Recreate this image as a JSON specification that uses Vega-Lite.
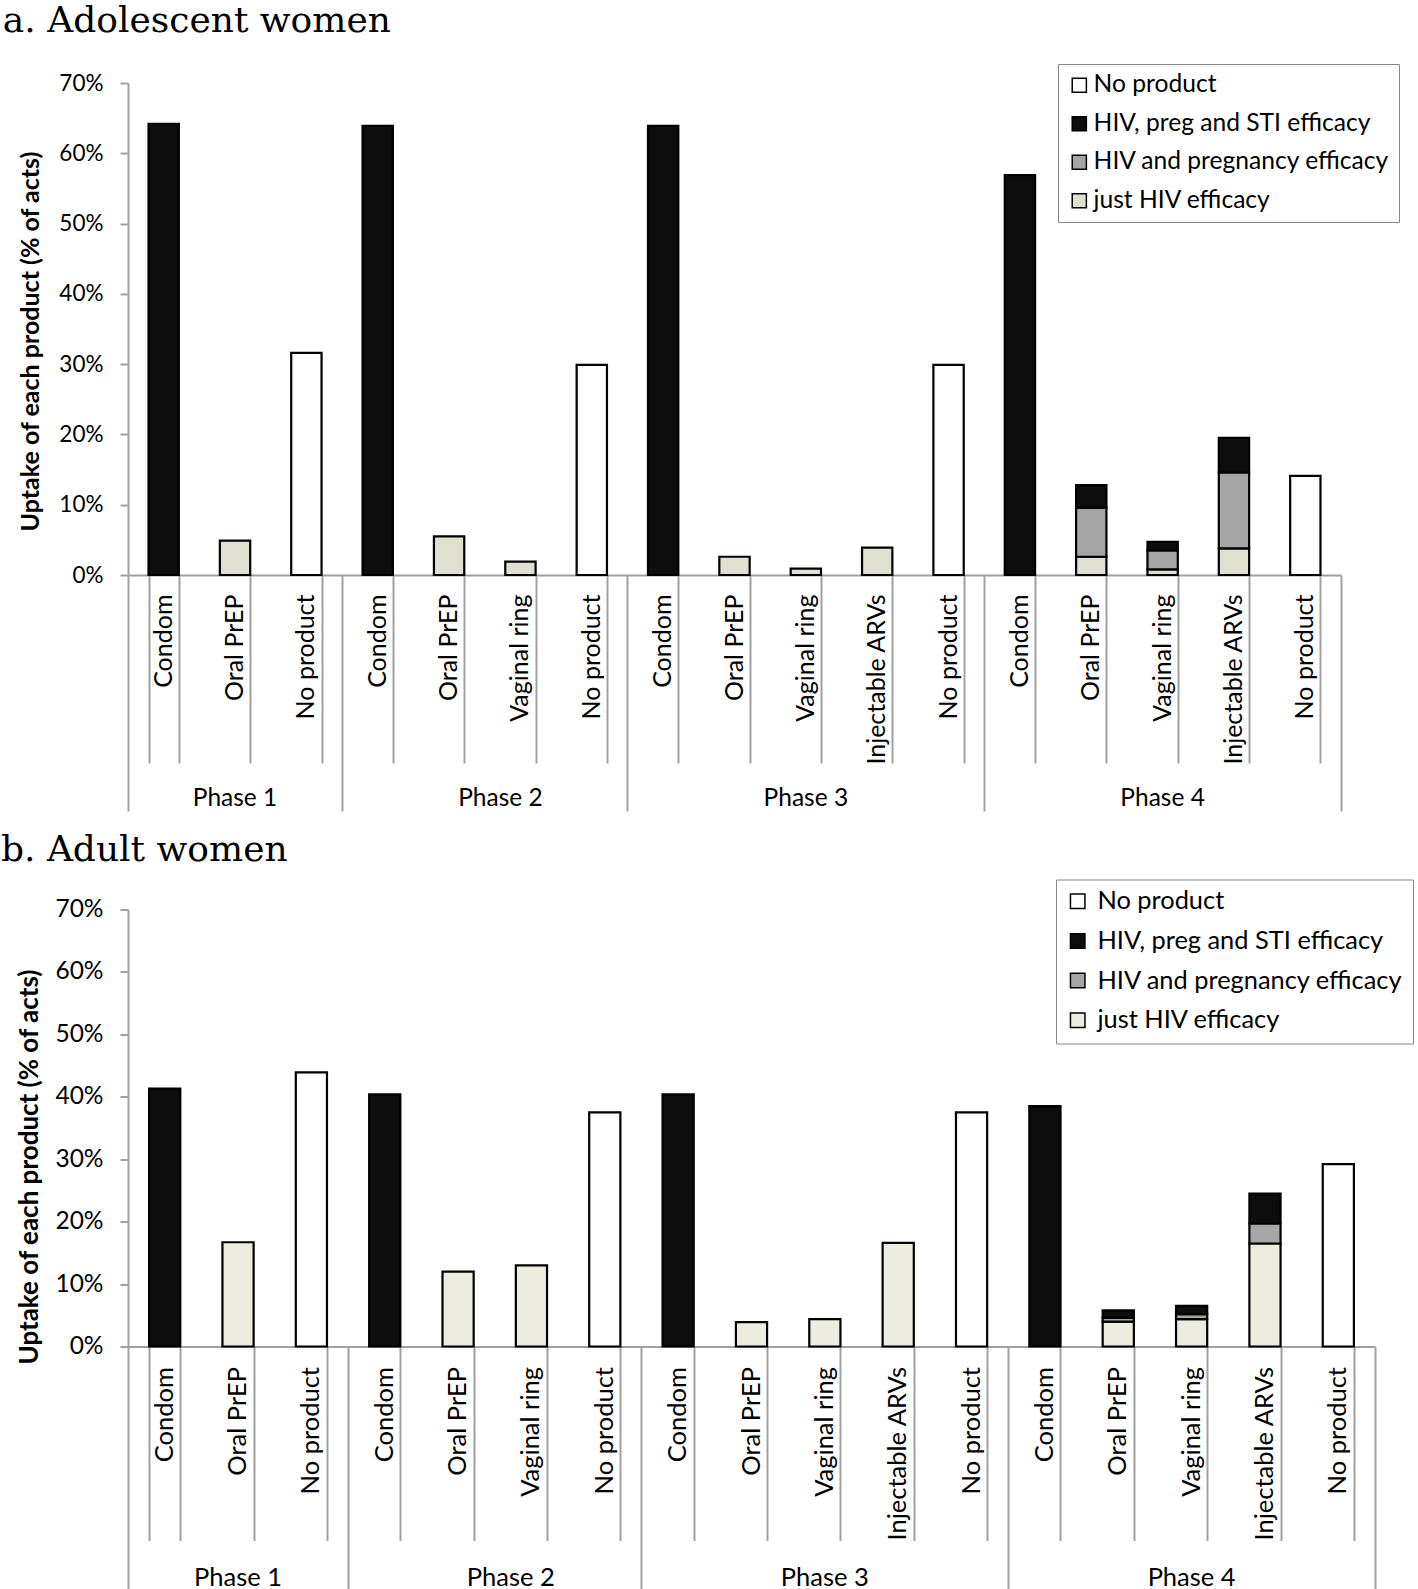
{
  "$schema": "https://vega.github.io/schema/vega-lite/v6.json",
  "padding": {"top": 3, "left": 0, "right": 0, "bottom": 0},
  "background": "white",
  "spacing": 19.5,
  "config": {
    "view": {"stroke": null},
    "font": "Lato",
    "axis": {"labelFont": "Lato", "titleFont": "Lato", "labelColor": "black", "titleColor": "black"},
    "legend": {"labelFont": "Lato", "labelColor": "black", "labelLimit": 0}
  },
  "resolve": {"scale": {"color": "independent"}},
  "datasets": {
    "adol": [
      {"key": "1|Condom", "type": "HIV, preg and STI efficacy", "efficacies": 3, "value": 64.2},
      {"key": "1|Oral PrEP", "type": "just HIV efficacy", "efficacies": 1, "value": 4.9},
      {"key": "1|No product", "type": "No product", "efficacies": 0, "value": 31.6},
      {"key": "2|Condom", "type": "HIV, preg and STI efficacy", "efficacies": 3, "value": 63.9},
      {"key": "2|Oral PrEP", "type": "just HIV efficacy", "efficacies": 1, "value": 5.5},
      {"key": "2|Vaginal ring", "type": "just HIV efficacy", "efficacies": 1, "value": 1.9},
      {"key": "2|No product", "type": "No product", "efficacies": 0, "value": 29.9},
      {"key": "3|Condom", "type": "HIV, preg and STI efficacy", "efficacies": 3, "value": 63.9},
      {"key": "3|Oral PrEP", "type": "just HIV efficacy", "efficacies": 1, "value": 2.6},
      {"key": "3|Vaginal ring", "type": "just HIV efficacy", "efficacies": 1, "value": 0.9},
      {"key": "3|Injectable ARVs", "type": "just HIV efficacy", "efficacies": 1, "value": 3.9},
      {"key": "3|No product", "type": "No product", "efficacies": 0, "value": 29.9},
      {"key": "4|Condom", "type": "HIV, preg and STI efficacy", "efficacies": 3, "value": 56.9},
      {"key": "4|Oral PrEP", "type": "just HIV efficacy", "efficacies": 1, "value": 2.6},
      {"key": "4|Oral PrEP", "type": "HIV and pregnancy efficacy", "efficacies": 2, "value": 7.0},
      {"key": "4|Oral PrEP", "type": "HIV, preg and STI efficacy", "efficacies": 3, "value": 3.2},
      {"key": "4|Vaginal ring", "type": "just HIV efficacy", "efficacies": 1, "value": 0.8},
      {"key": "4|Vaginal ring", "type": "HIV and pregnancy efficacy", "efficacies": 2, "value": 2.7},
      {"key": "4|Vaginal ring", "type": "HIV, preg and STI efficacy", "efficacies": 3, "value": 1.2},
      {"key": "4|Injectable ARVs", "type": "just HIV efficacy", "efficacies": 1, "value": 3.8},
      {"key": "4|Injectable ARVs", "type": "HIV and pregnancy efficacy", "efficacies": 2, "value": 10.8},
      {"key": "4|Injectable ARVs", "type": "HIV, preg and STI efficacy", "efficacies": 3, "value": 4.9},
      {"key": "4|No product", "type": "No product", "efficacies": 0, "value": 14.1}
    ],
    "adult": [
      {"key": "1|Condom", "type": "HIV, preg and STI efficacy", "efficacies": 3, "value": 41.3},
      {"key": "1|Oral PrEP", "type": "just HIV efficacy", "efficacies": 1, "value": 16.7},
      {"key": "1|No product", "type": "No product", "efficacies": 0, "value": 43.9},
      {"key": "2|Condom", "type": "HIV, preg and STI efficacy", "efficacies": 3, "value": 40.4},
      {"key": "2|Oral PrEP", "type": "just HIV efficacy", "efficacies": 1, "value": 12.0},
      {"key": "2|Vaginal ring", "type": "just HIV efficacy", "efficacies": 1, "value": 13.0},
      {"key": "2|No product", "type": "No product", "efficacies": 0, "value": 37.5},
      {"key": "3|Condom", "type": "HIV, preg and STI efficacy", "efficacies": 3, "value": 40.4},
      {"key": "3|Oral PrEP", "type": "just HIV efficacy", "efficacies": 1, "value": 3.9},
      {"key": "3|Vaginal ring", "type": "just HIV efficacy", "efficacies": 1, "value": 4.4},
      {"key": "3|Injectable ARVs", "type": "just HIV efficacy", "efficacies": 1, "value": 16.6},
      {"key": "3|No product", "type": "No product", "efficacies": 0, "value": 37.5},
      {"key": "4|Condom", "type": "HIV, preg and STI efficacy", "efficacies": 3, "value": 38.5},
      {"key": "4|Oral PrEP", "type": "just HIV efficacy", "efficacies": 1, "value": 4.0},
      {"key": "4|Oral PrEP", "type": "HIV and pregnancy efficacy", "efficacies": 2, "value": 0.6},
      {"key": "4|Oral PrEP", "type": "HIV, preg and STI efficacy", "efficacies": 3, "value": 1.2},
      {"key": "4|Vaginal ring", "type": "just HIV efficacy", "efficacies": 1, "value": 4.4},
      {"key": "4|Vaginal ring", "type": "HIV and pregnancy efficacy", "efficacies": 2, "value": 0.8},
      {"key": "4|Vaginal ring", "type": "HIV, preg and STI efficacy", "efficacies": 3, "value": 1.3},
      {"key": "4|Injectable ARVs", "type": "just HIV efficacy", "efficacies": 1, "value": 16.5},
      {"key": "4|Injectable ARVs", "type": "HIV and pregnancy efficacy", "efficacies": 2, "value": 3.2},
      {"key": "4|Injectable ARVs", "type": "HIV, preg and STI efficacy", "efficacies": 3, "value": 4.8},
      {"key": "4|No product", "type": "No product", "efficacies": 0, "value": 29.2}
    ]
  },
  "vconcat": [
    {
      "title": {"text": "a. Adolescent women", "anchor": "start", "frame": "bounds", "font": "DejaVu Serif", "fontSize": 36, "fontWeight": "normal", "color": "black", "dx": -16, "offset": 23.5},
      "data": {"name": "adol"},
      "width": 1213,
      "height": 492,
      "resolve": {"axis": {"x": "independent", "y": "independent"}},
      "layer": [
        {
          "mark": {"type": "bar", "stroke": "black", "strokeWidth": 2.2},
          "encoding": {
            "x": {"field": "key", "type": "nominal", "sort": null,
              "scale": {"paddingInner": 0.575, "paddingOuter": 0.2875},
              "axis": {"orient": "bottom", "title": null, "labelExpr": "split(datum.value, '|')[1]", "labelAngle": -90, "labelAlign": "right", "labelBaseline": "middle", "ticks": false, "domainColor": "#a0a0a0", "domainWidth": 2, "labelFontSize": 25, "labelPadding": 19}},
            "y": {"field": "value", "type": "quantitative", "stack": "zero",
              "scale": {"domain": [0, 70]},
              "axis": {"orient": "left", "title": "Uptake of each product (% of acts)", "titleFontSize": 25, "titleFontWeight": "bold", "titleY": 258, "titlePadding": 15, "values": [0, 10, 20, 30, 40, 50, 60, 70], "labelExpr": "datum.value + '%'", "labelFontSize": 22.5, "labelPadding": 17, "tickSize": 8, "tickColor": "#a0a0a0", "tickWidth": 2, "domainColor": "#a0a0a0", "domainWidth": 2, "grid": false}},
            "color": {"field": "type", "type": "nominal",
              "scale": {"domain": ["No product", "HIV, preg and STI efficacy", "HIV and pregnancy efficacy", "just HIV efficacy"], "range": ["#ffffff", "#0d0d0d", "#a5a5a5", "#e0e0d0"]},
              "legend": {"orient": "none", "legendX": 930, "legendY": -19, "title": null, "symbolType": "square", "symbolSize": 200, "symbolStrokeColor": "black", "symbolStrokeWidth": 1.5, "labelFontSize": 24.6, "labelLimit": 0, "strokeColor": "#888888", "fillColor": "white", "padding": 9, "rowPadding": 13.5, "labelOffset": 2}},
            "order": {"field": "efficacies", "type": "quantitative", "sort": "ascending"}
          }
        },
        {
          "mark": {"type": "tick", "opacity": 0},
          "encoding": {
            "x": {"field": "key", "type": "nominal", "sort": null,
              "axis": {"orient": "bottom", "title": null, "labels": false, "domain": false, "tickBand": "extent", "tickColor": "#a0a0a0", "tickWidth": 2, "tickSize": 188}},
            "y": {"field": "value", "type": "quantitative", "axis": null}
          }
        },
        {
          "mark": {"type": "tick", "opacity": 0},
          "encoding": {
            "x": {"field": "key", "type": "nominal", "sort": null,
              "axis": {"orient": "bottom", "title": null, "values": ["1|Condom", "2|Vaginal ring"], "bandPosition": 0, "tickOffset": -20.51, "domain": false, "tickColor": "#a0a0a0", "tickWidth": 2, "tickSize": 236,
                "tickOpacity": {"condition": {"test": "datum.value == '1|Condom'", "value": 1}, "value": 0},
                "labelExpr": "datum.value == '2|Vaginal ring' ? 'Phase 2' : ''", "labelAngle": 0, "labelAlign": "center", "labelBaseline": "middle", "labelPadding": -12.5, "labelFontSize": 24.5}},
            "y": {"field": "value", "type": "quantitative", "axis": null}
          }
        },
        {
          "mark": {"type": "tick", "opacity": 0},
          "encoding": {
            "x": {"field": "key", "type": "nominal", "sort": null,
              "axis": {"orient": "bottom", "title": null, "values": ["1|No product", "2|No product", "3|No product", "4|No product"], "bandPosition": 0, "tickOffset": 50.84, "labels": false, "domain": false, "tickColor": "#a0a0a0", "tickWidth": 2, "tickSize": 236}},
            "y": {"field": "value", "type": "quantitative", "axis": null}
          }
        },
        {
          "mark": {"type": "tick", "opacity": 0},
          "encoding": {
            "x": {"field": "key", "type": "nominal", "sort": null,
              "axis": {"orient": "bottom", "title": null, "values": ["1|Oral PrEP", "3|Vaginal ring", "4|Vaginal ring"], "labelExpr": "'Phase ' + split(datum.value, '|')[0]", "labelAngle": 0, "labelAlign": "center", "labelBaseline": "middle", "ticks": false, "domain": false, "labelPadding": 223.5, "labelFontSize": 24.5}},
            "y": {"field": "value", "type": "quantitative", "axis": null}
          }
        }
      ]
    },
    {
      "title": {"text": "b. Adult women", "anchor": "start", "frame": "bounds", "font": "DejaVu Serif", "fontSize": 36, "fontWeight": "normal", "color": "black", "dx": -16, "offset": 10},
      "data": {"name": "adult"},
      "width": 1247,
      "height": 437,
      "resolve": {"axis": {"x": "independent", "y": "independent"}},
      "layer": [
        {
          "mark": {"type": "bar", "stroke": "black", "strokeWidth": 2.2},
          "encoding": {
            "x": {"field": "key", "type": "nominal", "sort": null,
              "scale": {"paddingInner": 0.575, "paddingOuter": 0.2875},
              "axis": {"orient": "bottom", "title": null, "labelExpr": "split(datum.value, '|')[1]", "labelAngle": -90, "labelAlign": "right", "labelBaseline": "middle", "ticks": false, "domainColor": "#a0a0a0", "domainWidth": 2, "labelFontSize": 25.5, "labelPadding": 20}},
            "y": {"field": "value", "type": "quantitative", "stack": "zero",
              "scale": {"domain": [0, 70]},
              "axis": {"orient": "left", "title": "Uptake of each product (% of acts)", "titleFontSize": 26, "titleFontWeight": "bold", "titleY": 257, "titlePadding": 12, "values": [0, 10, 20, 30, 40, 50, 60, 70], "labelExpr": "datum.value + '%'", "labelFontSize": 24.5, "labelPadding": 17, "tickSize": 8, "tickColor": "#a0a0a0", "tickWidth": 2, "domainColor": "#a0a0a0", "domainWidth": 2, "grid": false}},
            "color": {"field": "type", "type": "nominal",
              "scale": {"domain": ["No product", "HIV, preg and STI efficacy", "HIV and pregnancy efficacy", "just HIV efficacy"], "range": ["#ffffff", "#0d0d0d", "#a6a6a6", "#ececE1"]},
              "legend": {"orient": "none", "legendX": 928, "legendY": -30, "title": null, "symbolType": "square", "symbolSize": 210, "symbolStrokeColor": "black", "symbolStrokeWidth": 1.5, "labelFontSize": 25.4, "labelLimit": 0, "strokeColor": "#888888", "fillColor": "white", "padding": 9, "rowPadding": 12.7, "labelOffset": 7}},
            "order": {"field": "efficacies", "type": "quantitative", "sort": "ascending"}
          }
        },
        {
          "mark": {"type": "tick", "opacity": 0},
          "encoding": {
            "x": {"field": "key", "type": "nominal", "sort": null,
              "axis": {"orient": "bottom", "title": null, "labels": false, "domain": false, "tickBand": "extent", "tickColor": "#a0a0a0", "tickWidth": 2, "tickSize": 194}},
            "y": {"field": "value", "type": "quantitative", "axis": null}
          }
        },
        {
          "mark": {"type": "tick", "opacity": 0},
          "encoding": {
            "x": {"field": "key", "type": "nominal", "sort": null,
              "axis": {"orient": "bottom", "title": null, "values": ["1|Condom", "2|Vaginal ring"], "bandPosition": 0, "tickOffset": -21.09, "domain": false, "tickColor": "#a0a0a0", "tickWidth": 2, "tickSize": 260,
                "tickOpacity": {"condition": {"test": "datum.value == '1|Condom'", "value": 1}, "value": 0},
                "labelExpr": "datum.value == '2|Vaginal ring' ? 'Phase 2' : ''", "labelAngle": 0, "labelAlign": "center", "labelBaseline": "middle", "labelPadding": -29, "labelFontSize": 25.5}},
            "y": {"field": "value", "type": "quantitative", "axis": null}
          }
        },
        {
          "mark": {"type": "tick", "opacity": 0},
          "encoding": {
            "x": {"field": "key", "type": "nominal", "sort": null,
              "axis": {"orient": "bottom", "title": null, "values": ["1|No product", "2|No product", "3|No product", "4|No product"], "bandPosition": 0, "tickOffset": 52.26, "labels": false, "domain": false, "tickColor": "#a0a0a0", "tickWidth": 2, "tickSize": 260}},
            "y": {"field": "value", "type": "quantitative", "axis": null}
          }
        },
        {
          "mark": {"type": "tick", "opacity": 0},
          "encoding": {
            "x": {"field": "key", "type": "nominal", "sort": null,
              "axis": {"orient": "bottom", "title": null, "values": ["1|Oral PrEP", "3|Vaginal ring", "4|Vaginal ring"], "labelExpr": "'Phase ' + split(datum.value, '|')[0]", "labelAngle": 0, "labelAlign": "center", "labelBaseline": "middle", "ticks": false, "domain": false, "labelPadding": 231, "labelFontSize": 25.5}},
            "y": {"field": "value", "type": "quantitative", "axis": null}
          }
        }
      ]
    }
  ]
}
